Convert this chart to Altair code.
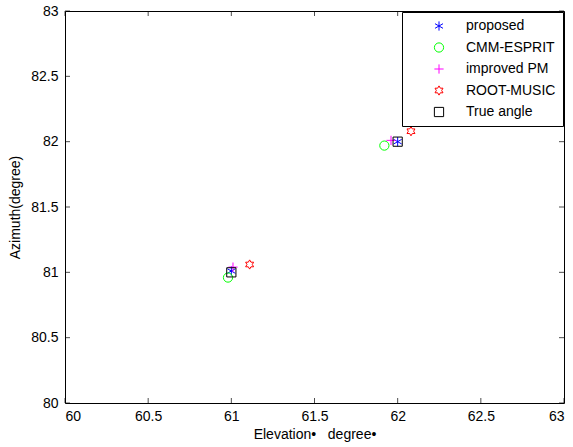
import altair as alt
import pandas as pd

methods = ["proposed", "CMM-ESPRIT", "improved PM", "ROOT-MUSIC", "True angle"]
colors = ["#0000ff", "#00ff00", "#ff00ff", "#ff0000", "#000000"]

# estimated points (two targets each)
method_col = ["proposed", "proposed", "CMM-ESPRIT", "CMM-ESPRIT", "improved PM", "improved PM",
              "ROOT-MUSIC", "ROOT-MUSIC", "True angle", "True angle"]
elev = [61.00, 62.00, 60.98, 61.92, 61.01, 61.96, 61.11, 62.08, 61.0, 62.0]
azim = [81.01, 82.00, 80.96, 81.97, 81.04, 82.01, 81.06, 82.08, 81.0, 82.0]

x_ticks = [60, 60.5, 61, 61.5, 62, 62.5, 63]
y_ticks = [80, 80.5, 81, 81.5, 82, 82.5, 83]

asterisk = "M0,-1L0,1M-0.87,-0.5L0.87,0.5M-0.87,0.5L0.87,-0.5"
plus = "M0,-1L0,1M-1,0L1,0"
hexagram = ("M0,-1L0.2887,-0.5L0.866,-0.5L0.577,0L0.866,0.5L0.2887,0.5L0,1L-0.2887,0.5"
            "L-0.866,0.5L-0.577,0L-0.866,-0.5L-0.2887,-0.5Z")
shapes = [asterisk, "circle", plus, hexagram, "square"]

df = pd.DataFrame({"method": method_col, "elev": elev, "azim": azim})
xt = pd.DataFrame({"v": x_ticks})
yt = pd.DataFrame({"v": y_ticks})

FONT = "Liberation Sans"
FS = 14
xscale = alt.Scale(domain=[60, 63], nice=False, zero=False)
yscale = alt.Scale(domain=[80, 83], nice=False, zero=False)

points = alt.Chart(df).mark_point(filled=False, strokeWidth=1, size=85, opacity=1).encode(
    x=alt.X("elev:Q", scale=xscale,
            axis=alt.Axis(values=x_ticks, title="Elevation•\u00a0\u00a0\u00a0degree•", grid=False, ticks=False,
                          domain=False, labelPadding=6, titlePadding=4, format="~g",
                          labelFontSize=FS, titleFontSize=FS, labelColor="black", titleColor="black",
                          labelFont=FONT, titleFont=FONT, titleFontWeight="normal")),
    y=alt.Y("azim:Q", scale=yscale,
            axis=alt.Axis(values=y_ticks, title="Azimuth(degree)", grid=False, ticks=False,
                          domain=False, labelPadding=7, titlePadding=8, format="~g",
                          labelFontSize=FS, titleFontSize=FS, labelColor="black", titleColor="black",
                          labelFont=FONT, titleFont=FONT, titleFontWeight="normal")),
    color=alt.Color("method:N", scale=alt.Scale(domain=methods, range=colors),
                    legend=alt.Legend(title=None, orient="none", legendX=337, legendY=1,
                                      strokeColor="black", fillColor="white", padding=7,
                                      labelFont=FONT, labelFontSize=FS, labelColor="black",
                                      symbolOffset=23, labelOffset=20, rowPadding=7.5,
                                      symbolSize=85, symbolStrokeWidth=1, symbolFillColor="transparent",
                                      labelLimit=200)),
    shape=alt.Shape("method:N", scale=alt.Scale(domain=methods, range=shapes), legend=None),
)

xt_bottom = alt.Chart(xt).mark_tick(orient="vertical", size=5, thickness=1, color="black", yOffset=-2.5).encode(
    x=alt.X("v:Q", scale=xscale), y=alt.datum(80))
xt_top = alt.Chart(xt).mark_tick(orient="vertical", size=5, thickness=1, color="black", yOffset=2.5).encode(
    x=alt.X("v:Q", scale=xscale), y=alt.datum(83))
yt_left = alt.Chart(yt).mark_tick(orient="horizontal", size=5, thickness=1, color="black", xOffset=2.5).encode(
    y=alt.Y("v:Q", scale=yscale), x=alt.datum(60))
yt_right = alt.Chart(yt).mark_tick(orient="horizontal", size=5, thickness=1, color="black", xOffset=-2.5).encode(
    y=alt.Y("v:Q", scale=yscale), x=alt.datum(63))

chart = alt.layer(xt_bottom, xt_top, yt_left, yt_right, points).properties(
    width=499, height=392,
    autosize=alt.AutoSizeParams(type="none"),
    padding={"left": 65, "top": 11, "right": 9, "bottom": 44},
    background="white",
).configure_view(stroke="black", strokeWidth=1)

chart.save("out.html", embed_options={"renderer": "svg", "actions": False})
